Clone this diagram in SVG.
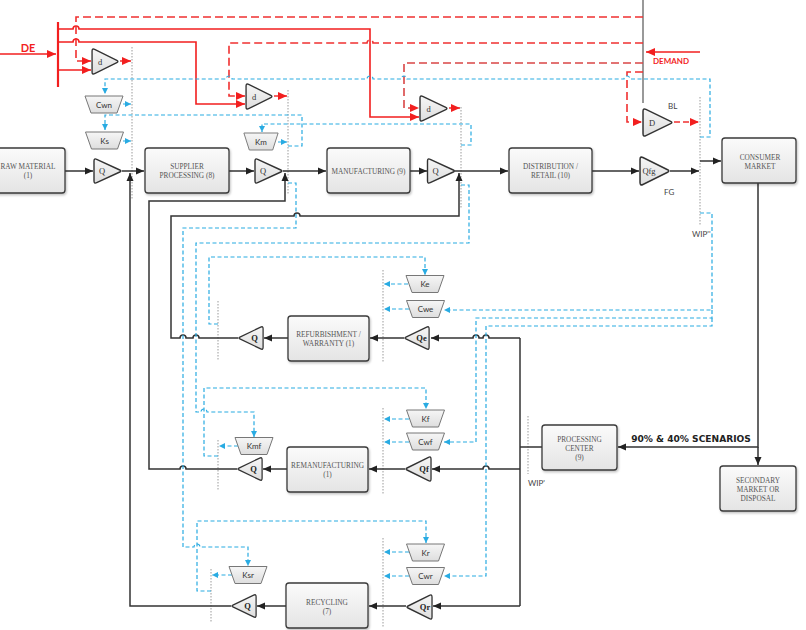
<svg xmlns="http://www.w3.org/2000/svg" xmlns:xlink="http://www.w3.org/1999/xlink" width="806" height="630" viewBox="0 0 806 630">
<defs>
<linearGradient id="gbox" x1="0" y1="0" x2="0" y2="1"><stop offset="0" stop-color="#fbfbfb"/><stop offset="1" stop-color="#e4e4e4"/></linearGradient>
<linearGradient id="gtri" x1="0" y1="0" x2="0" y2="1"><stop offset="0" stop-color="#f6f6f6"/><stop offset="1" stop-color="#dedede"/></linearGradient>
<filter id="sh" x="-10%" y="-10%" width="130%" height="140%"><feDropShadow dx="1" dy="1.5" stdDeviation="1" flood-color="#000" flood-opacity="0.25"/></filter>
<path id="triR" d="M-14,-10 Q-14,-13 -11.3,-11.7 L11.8,-1 Q14,0 11.8,1 L-11.3,11.7 Q-14,13 -14,10 Z"/>
<path id="trap" d="M-19,-8.5 L19,-8.5 L13,8.5 L-13,8.5 Z"/>
<marker id="ak" markerUnits="userSpaceOnUse" markerWidth="9" markerHeight="8" refX="8" refY="4" orient="auto"><path d="M0,0.5 L8,4 L0,7.5 Z" fill="#222"/></marker>
<marker id="ar" markerUnits="userSpaceOnUse" markerWidth="10" markerHeight="9" refX="9" refY="4.5" orient="auto"><path d="M0,0.5 L9,4.5 L0,8.5 Z" fill="#f21f1f"/></marker>
<marker id="ab" markerUnits="userSpaceOnUse" markerWidth="7" markerHeight="6" refX="6" refY="3" orient="auto"><path d="M0,0 L6,3 L0,6 Z" fill="#29abe2"/></marker>
<style>
.box{fill:url(#gbox);stroke:#3a3a3a;stroke-width:1.3;filter:url(#sh)}
.tri{fill:url(#gtri);stroke:#333;stroke-width:1.4}
.trp{fill:url(#gtri);stroke:#777;stroke-width:1}
.bt{font-family:"Liberation Serif",serif;font-size:7.3px;fill:#555;text-anchor:middle}
.tl{font-family:"Liberation Serif",serif;font-size:8.5px;fill:#333;text-anchor:middle}
.tlb{font-family:"Liberation Serif",serif;font-size:8.5px;fill:#222;font-weight:bold;text-anchor:middle}
.kl{font-family:Lato,"Open Sans",sans-serif;font-size:8px;fill:#333;text-anchor:middle}
.lb{font-family:Lato,"Open Sans",sans-serif;font-size:8px;fill:#444}
.blk{fill:none;stroke:#333;stroke-width:1.5}
.rs{fill:none;stroke:#f21f1f;stroke-width:1.6}
.rd{fill:none;stroke:#f03030;stroke-width:1.6;stroke-dasharray:8 4}
.bl{fill:none;stroke:#29abe2;stroke-width:1.2;stroke-dasharray:4 2.5}
.dot{fill:none;stroke:#9a9a9a;stroke-width:1;stroke-dasharray:1.5 1.5}
</style>
</defs>
<rect width="806" height="630" fill="#fff"/>

<g id="guides">
<line class="dot" x1="132" y1="47" x2="132" y2="200"/>
<line class="dot" x1="288" y1="90" x2="288" y2="195"/>
<line class="dot" x1="461" y1="107" x2="461" y2="208"/>
<line class="dot" x1="700" y1="97" x2="700" y2="225"/>
<line class="dot" x1="383" y1="270" x2="383" y2="363"/>
<line class="dot" x1="383" y1="408" x2="383" y2="494"/>
<line class="dot" x1="383" y1="538" x2="383" y2="628"/>
<line class="dot" x1="218" y1="301" x2="218" y2="360"/>
<line class="dot" x1="218" y1="440" x2="218" y2="490"/>
<line class="dot" x1="211" y1="569" x2="211" y2="623"/>
<line class="dot" x1="528" y1="416" x2="528" y2="474"/>
<line x1="643" y1="0" x2="643" y2="103" stroke="#999" stroke-width="2"/>
<line x1="58" y1="22" x2="58" y2="87" stroke="#f21f1f" stroke-width="2.2"/>
</g>

<g id="connectors">
<path class="rs" d="M0,54 L56,54" marker-end="url(#ar)"/>
<path class="rs" d="M700,52 L646,52" marker-end="url(#ar)"/>
<path class="rs" d="M58,29 L73,29 A3,3 0 0 1 79,29 L370,29 L370,117 L419,117" marker-end="url(#ar)"/>
<path class="rs" d="M58,42 L73,42 A3,3 0 0 1 79,42 L196,42 L196,104 L245,104" marker-end="url(#ar)"/>
<path class="rs" d="M58,70 L91,70" marker-end="url(#ar)"/>
<path class="rd" d="M643,17 L76,17 L76,61 L91,61" marker-end="url(#ar)"/>
<path class="rd" d="M643,43 L373,43 A3,3 0 0 0 367,43 L229,43 L229,96 L245,96" marker-end="url(#ar)"/>
<path class="rd" d="M643,63 L404,63 L404,108 L419,108" style="stroke:#d94545" marker-end="url(#ar)"/>
<path class="rd" d="M643,72 L627,72 L627,122 L642,122" marker-end="url(#ar)"/>
<path class="rd" d="M120,61 L131,61" style="stroke-dasharray:5 3" marker-end="url(#ar)"/>
<path class="rd" d="M274,96 L287,96" style="stroke-dasharray:5 3" marker-end="url(#ar)"/>
<path class="rd" d="M449,108 L460,108" style="stroke-dasharray:5 3" marker-end="url(#ar)"/>
<path class="rd" d="M674,122 L699,122" style="stroke-dasharray:6 3" marker-end="url(#ar)"/>

<path class="blk" d="M65,171 L93,171" marker-end="url(#ak)"/>
<path class="blk" d="M122,171 L144,171" marker-end="url(#ak)"/>
<path class="blk" d="M229,171 L254,171" marker-end="url(#ak)"/>
<path class="blk" d="M283,171 L326,171" marker-end="url(#ak)"/>
<path class="blk" d="M410,171 L427,171" marker-end="url(#ak)"/>
<path class="blk" d="M455,171 L508,171" marker-end="url(#ak)"/>
<path class="blk" d="M592,171 L639,171" marker-end="url(#ak)"/>
<path class="blk" d="M670,171 L699,171" marker-end="url(#ak)"/>
<path class="blk" d="M700,161 L721,161" marker-end="url(#ak)"/>
<path class="blk" d="M758,183 L758,447 L618,447" marker-end="url(#ak)"/>
<path class="blk" d="M758,447 L758,465" marker-end="url(#ak)"/>
<path class="blk" d="M542,447 L520,447"/>
<path class="blk" d="M520,338 L520,606"/>
<path class="blk" d="M520,338 L489,338 A3,3 0 0 0 483,338 L479,338 A3,3 0 0 0 473,338 L431,338" marker-end="url(#ak)"/>
<path class="blk" d="M520,469 L489,469 A3,3 0 0 0 483,469 L432,469" marker-end="url(#ak)"/>
<path class="blk" d="M520,606 L433,606" marker-end="url(#ak)"/>
<path class="blk" d="M404,338 L370,338" marker-end="url(#ak)"/>
<path class="blk" d="M288,338 L264,338" marker-end="url(#ak)"/>
<path class="blk" d="M238,338 L199,338 A3,3 0 0 0 193,338 L186,338 A3,3 0 0 0 180,338 L171,338 L171,216 L294,216 A3,3 0 0 1 300,216 L459,216 L459,173" marker-end="url(#ak)"/>
<path class="blk" d="M405,469 L369,469" marker-end="url(#ak)"/>
<path class="blk" d="M287,469 L263,469" marker-end="url(#ak)"/>
<path class="blk" d="M237,469 L186,469 A3,3 0 0 0 180,469 L149,469 L149,201 L285,201 L285,173" marker-end="url(#ak)"/>
<path class="blk" d="M406,606 L369,606" marker-end="url(#ak)"/>
<path class="blk" d="M286,606 L257,606" marker-end="url(#ak)"/>
<path class="blk" d="M231,606 L130,606 L130,173" marker-end="url(#ak)"/>

<path class="bl" d="M700,137 L710,137 L710,79 L630,79 A3,3 0 0 0 624,79 L407,79 A3,3 0 0 0 401,79 L373,79 A3,3 0 0 0 367,79 L232,79 A3,3 0 0 0 226,79 L105,79 L105,94" marker-end="url(#ab)"/>
<path class="bl" d="M123,104 L131,104" marker-end="url(#ab)"/>
<path class="bl" d="M288,146 L302,146 L302,115 L105,115 L105,130" marker-end="url(#ab)"/>
<path class="bl" d="M123,141 L131,141" marker-end="url(#ab)"/>
<path class="bl" d="M461,145 L471,145 L471,124 L262,124 L262,132" marker-end="url(#ab)"/>
<path class="bl" d="M278,142 L287,142" marker-end="url(#ab)"/>
<path class="bl" d="M288,183 L296,183 L296,228 L183,228 L183,547 L194,547 A3,3 0 0 1 200,547 L248,547 L248,566" marker-end="url(#ab)"/>
<path class="bl" d="M461,185 L469,185 L469,243 L196,243 L196,412 L201,412 A3,3 0 0 1 207,412 L254,412 L254,437" marker-end="url(#ab)"/>
<path class="bl" d="M218,324 L209,324 L209,257 L425,257 L425,275" marker-end="url(#ab)"/>
<path class="bl" d="M408,284 L384,284" marker-end="url(#ab)"/>
<path class="bl" d="M700,213 L712,213 L712,310 L444,310" marker-end="url(#ab)"/>
<path class="bl" d="M409,309 L384,309" marker-end="url(#ab)"/>
<path class="bl" d="M712,310 L712,318 L476,318 L476,442 L444,442" marker-end="url(#ab)"/>
<path class="bl" d="M712,318 L712,326 L486,326 L486,576 L444,576" marker-end="url(#ab)"/>
<path class="bl" d="M218,456 L204,456 L204,388 L426,388 L426,409" marker-end="url(#ab)"/>
<path class="bl" d="M409,419 L384,419" marker-end="url(#ab)"/>
<path class="bl" d="M409,442 L384,442" marker-end="url(#ab)"/>
<path class="bl" d="M238,446 L219,446" marker-end="url(#ab)"/>
<path class="bl" d="M211,591 L197,591 L197,521 L426,521 L426,543" marker-end="url(#ab)"/>
<path class="bl" d="M409,552 L384,552" marker-end="url(#ab)"/>
<path class="bl" d="M409,576 L384,576" marker-end="url(#ab)"/>
<path class="bl" d="M232,575 L212,575" marker-end="url(#ab)"/>
</g>

<g id="raw-material"><rect class="box" x="-16" y="148" width="81" height="45" rx="3"/><text class="bt" x="28" y="169">RAW MATERIAL</text><text class="bt" x="28" y="178">(1)</text></g>
<g id="supplier"><rect class="box" x="145" y="148" width="84" height="45" rx="3"/><text class="bt" x="187" y="168.5">SUPPLIER</text><text class="bt" x="187" y="177.5">PROCESSING (8)</text></g>
<g id="manufacturing"><rect class="box" x="327" y="148" width="83" height="45" rx="3"/><text class="bt" x="368.5" y="173.5">MANUFACTURING (9)</text></g>
<g id="distribution"><rect class="box" x="509" y="148" width="83" height="45" rx="3"/><text class="bt" x="550.5" y="168.5">DISTRIBUTION /</text><text class="bt" x="550.5" y="177.5">RETAIL (10)</text></g>
<g id="consumer"><rect class="box" x="722" y="138" width="74" height="45" rx="3"/><text class="bt" x="760" y="159.5">CONSUMER</text><text class="bt" x="760" y="168.5">MARKET</text></g>
<g id="refurbishment"><rect class="box" x="288" y="316" width="81" height="45" rx="3"/><text class="bt" x="328.5" y="336.5">REFURBISHMENT /</text><text class="bt" x="328.5" y="345.5">WARRANTY (1)</text></g>
<g id="remanufacturing"><rect class="box" x="287" y="447" width="81" height="45" rx="3"/><text class="bt" x="327.5" y="467.5">REMANUFACTURING</text><text class="bt" x="327.5" y="476.5">(1)</text></g>
<g id="recycling"><rect class="box" x="286" y="583" width="82" height="45" rx="3"/><text class="bt" x="327" y="604.5">RECYCLING</text><text class="bt" x="327" y="613.5">(7)</text></g>
<g id="processing"><rect class="box" x="542" y="425" width="75" height="45" rx="3"/><text class="bt" x="579.5" y="441.5">PROCESSING</text><text class="bt" x="579.5" y="450.5">CENTER</text><text class="bt" x="579.5" y="459.5">(9)</text></g>
<g id="secondary"><rect class="box" x="720" y="466" width="76" height="45" rx="3"/><text class="bt" x="758" y="482.5">SECONDARY</text><text class="bt" x="758" y="491.5">MARKET OR</text><text class="bt" x="758" y="500.5">DISPOSAL</text></g>

<g id="q1"><use xlink:href="#triR" class="tri" transform="translate(108,171)"/><text class="tl" x="102" y="174">Q</text></g>
<g id="q2"><use xlink:href="#triR" class="tri" transform="translate(269,171)"/><text class="tl" x="263" y="174">Q</text></g>
<g id="q3"><use xlink:href="#triR" class="tri" transform="translate(441.5,171)"/><text class="tl" x="435.5" y="174">Q</text></g>
<g id="qfg"><use xlink:href="#triR" class="tri" transform="translate(655,171) scale(1.07,1.15)"/><text class="tl" x="649" y="174">Qfg</text></g>
<g id="d1"><use xlink:href="#triR" class="tri" transform="translate(105.5,61.5) scale(0.96,1.04)"/><text class="tl" x="100" y="64.5">d</text></g>
<g id="d2"><use xlink:href="#triR" class="tri" transform="translate(259.5,96.5) scale(0.96,1.04)"/><text class="tl" x="254" y="99.5">d</text></g>
<g id="d3"><use xlink:href="#triR" class="tri" transform="translate(434,108.5) scale(1,1.04)"/><text class="tl" x="428.5" y="111.5">d</text></g>
<g id="dD"><use xlink:href="#triR" class="tri" transform="translate(658,122.5) scale(1.07,1.12)"/><text class="tl" x="652" y="125.5">D</text></g>
<g id="q-refurb"><use xlink:href="#triR" class="tri" transform="translate(250.5,338) scale(-0.9,0.93)"/><text class="tlb" x="254.5" y="341">Q</text></g>
<g id="qe"><use xlink:href="#triR" class="tri" transform="translate(416.5,338) scale(-0.9,0.93)"/><text class="tlb" x="421.5" y="341">Qe</text></g>
<g id="q-reman"><use xlink:href="#triR" class="tri" transform="translate(249.5,469) scale(-0.9,0.93)"/><text class="tlb" x="253.5" y="472">Q</text></g>
<g id="qf"><use xlink:href="#triR" class="tri" transform="translate(418,469) scale(-0.93,1)"/><text class="tlb" x="424" y="472">Qf</text></g>
<g id="q-recyc"><use xlink:href="#triR" class="tri" transform="translate(243.5,606) scale(-0.9,0.93)"/><text class="tlb" x="247.5" y="609">Q</text></g>
<g id="qr"><use xlink:href="#triR" class="tri" transform="translate(419,607) scale(-0.93,1)"/><text class="tlb" x="425" y="610">Qr</text></g>

<g id="cwn"><use xlink:href="#trap" class="trp" transform="translate(104,104.5)"/><text class="kl" x="104" y="107.5">Cwn</text></g>
<g id="ks"><use xlink:href="#trap" class="trp" transform="translate(104.5,140.5)"/><text class="kl" x="104.5" y="143.5">Ks</text></g>
<g id="km"><use xlink:href="#trap" class="trp" transform="translate(261,141.5) scale(0.9,1)"/><text class="kl" x="261" y="144.5">Km</text></g>
<g id="ke"><use xlink:href="#trap" class="trp" transform="translate(425,284)"/><text class="kl" x="425" y="287">Ke</text></g>
<g id="cwe"><use xlink:href="#trap" class="trp" transform="translate(425.5,309)"/><text class="kl" x="425.5" y="312">Cwe</text></g>
<g id="kmf"><use xlink:href="#trap" class="trp" transform="translate(254,446)"/><text class="kl" x="254" y="449">Kmf</text></g>
<g id="kf"><use xlink:href="#trap" class="trp" transform="translate(425.5,418.5)"/><text class="kl" x="425.5" y="421.5">Kf</text></g>
<g id="cwf"><use xlink:href="#trap" class="trp" transform="translate(425.5,441.5)"/><text class="kl" x="425.5" y="444.5">Cwf</text></g>
<g id="ksr"><use xlink:href="#trap" class="trp" transform="translate(248,575)"/><text class="kl" x="248" y="578">Ksr</text></g>
<g id="kr"><use xlink:href="#trap" class="trp" transform="translate(425.5,552.5)"/><text class="kl" x="425.5" y="555.5">Kr</text></g>
<g id="cwr"><use xlink:href="#trap" class="trp" transform="translate(425.5,576)"/><text class="kl" x="425.5" y="579">Cwr</text></g>

<g id="labels">
<text x="28" y="52" font-family="Lato,'Open Sans',sans-serif" font-size="11" font-weight="bold" fill="#f21f1f" text-anchor="middle">DE</text>
<text x="653" y="64" font-family="Lato,'Open Sans',sans-serif" font-size="8" font-weight="bold" fill="#f21f1f">DEMAND</text>
<text class="lb" x="668" y="109">BL</text>
<text class="lb" x="664" y="195">FG</text>
<text class="lb" x="692" y="237">WIP''</text>
<text class="lb" x="528" y="486">WIP'</text>
<text x="691" y="442" font-family="'DejaVu Sans',sans-serif" font-size="9.1" font-weight="bold" fill="#222" text-anchor="middle">90% &amp; 40% SCENARIOS</text>
</g>
</svg>
